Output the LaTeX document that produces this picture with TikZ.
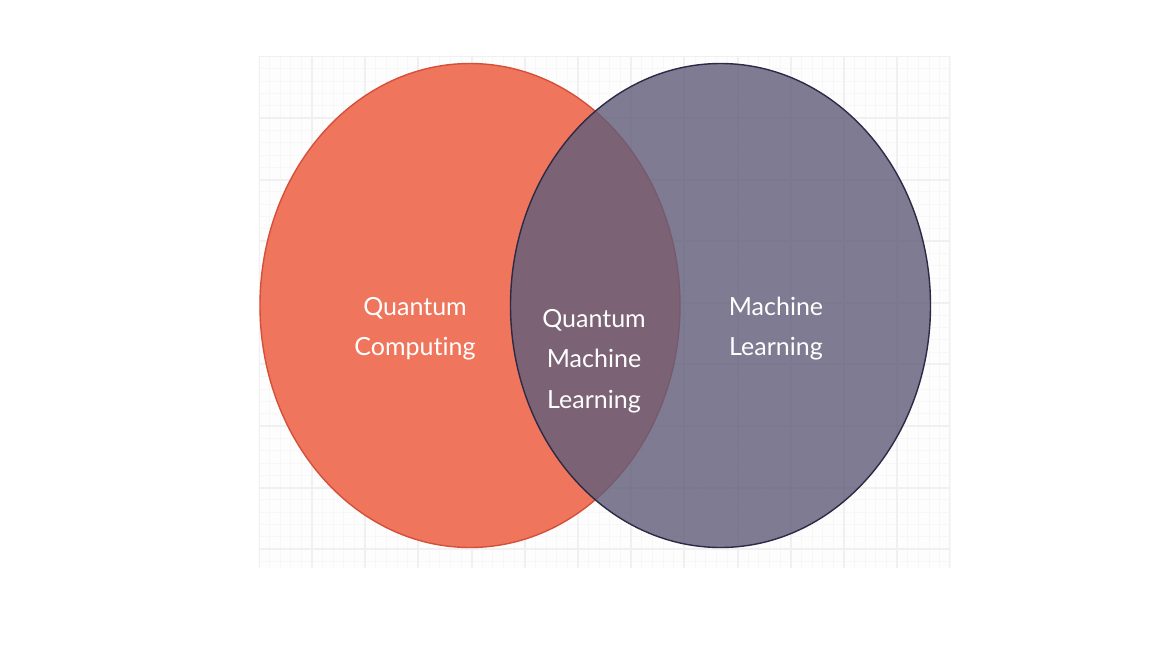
\documentclass[tikz,border=0pt]{standalone}
\usepackage{fontspec}
\setmainfont{Lato}[Ligatures=NoCommon]
\usepackage{xcolor}
\usetikzlibrary{positioning}
\usetikzlibrary{shapes.geometric}

\definecolor{qcfill}{HTML}{EF755C}
\definecolor{qcline}{HTML}{D5503A}
\definecolor{mlfill}{HTML}{615E7A}
\definecolor{mlline}{HTML}{2C2A46}
\definecolor{gridbg}{HTML}{FDFDFD}
\definecolor{gridminor}{HTML}{F7F7F7}
\definecolor{gridmajor}{HTML}{F0F0F0}

\tikzset{
  setshape/.style={draw, ellipse, inner sep=0pt, minimum width=420pt, minimum height=484pt, line width=1.4pt},
  setlabel/.style={text=white, align=center, font=\fontsize{25}{40.5}\selectfont},
}

\begin{document}
\begin{tikzpicture}[x=1pt, y=-1pt]
			\useasboundingbox (0,0) rectangle (1152,648);
			
			% grid paper behind the sets
			\fill[gridbg] (258.8,56.4) rectangle (950.4,568);
			\begin{scope}
			\clip (258.8,56.4) rectangle (950.4,568);
			\foreach \i in {0,...,65} \draw[gridminor, line width=0.9pt] (258.8+\i*10.64,56.4) -- (258.8+\i*10.64,568);
			\foreach \j in {0,...,41} \draw[gridminor, line width=0.9pt] (258.8,56.4+\j*12.32) -- (950.4,56.4+\j*12.32);
			\foreach \i in {0,...,13} \draw[gridmajor, line width=2pt] (258.8+\i*53.2,56.4) -- (258.8+\i*53.2,568);
			\foreach \j in {0,...,8} \draw[gridmajor, line width=2pt] (258.8,56.4+\j*61.6) -- (950.4,56.4+\j*61.6);
			\end{scope}
			
			% the two sets
			\node[setshape, draw=qcline, fill=qcfill] (qcset) at (470,305.5) {};
			\node[setshape, draw=mlline, fill=mlfill, fill opacity=0.81] (mlset) at (720.5,305.5) {};
			
			\node[setlabel] (qc) at (415,328.5) {Quantum\\Computing};
			\node[setlabel] (qml) at (594,361) {Quantum\\Machine\\Learning};
			\node[setlabel] (ml) at (776,328.5) {Machine\\Learning};
		\end{tikzpicture}
\end{document}
